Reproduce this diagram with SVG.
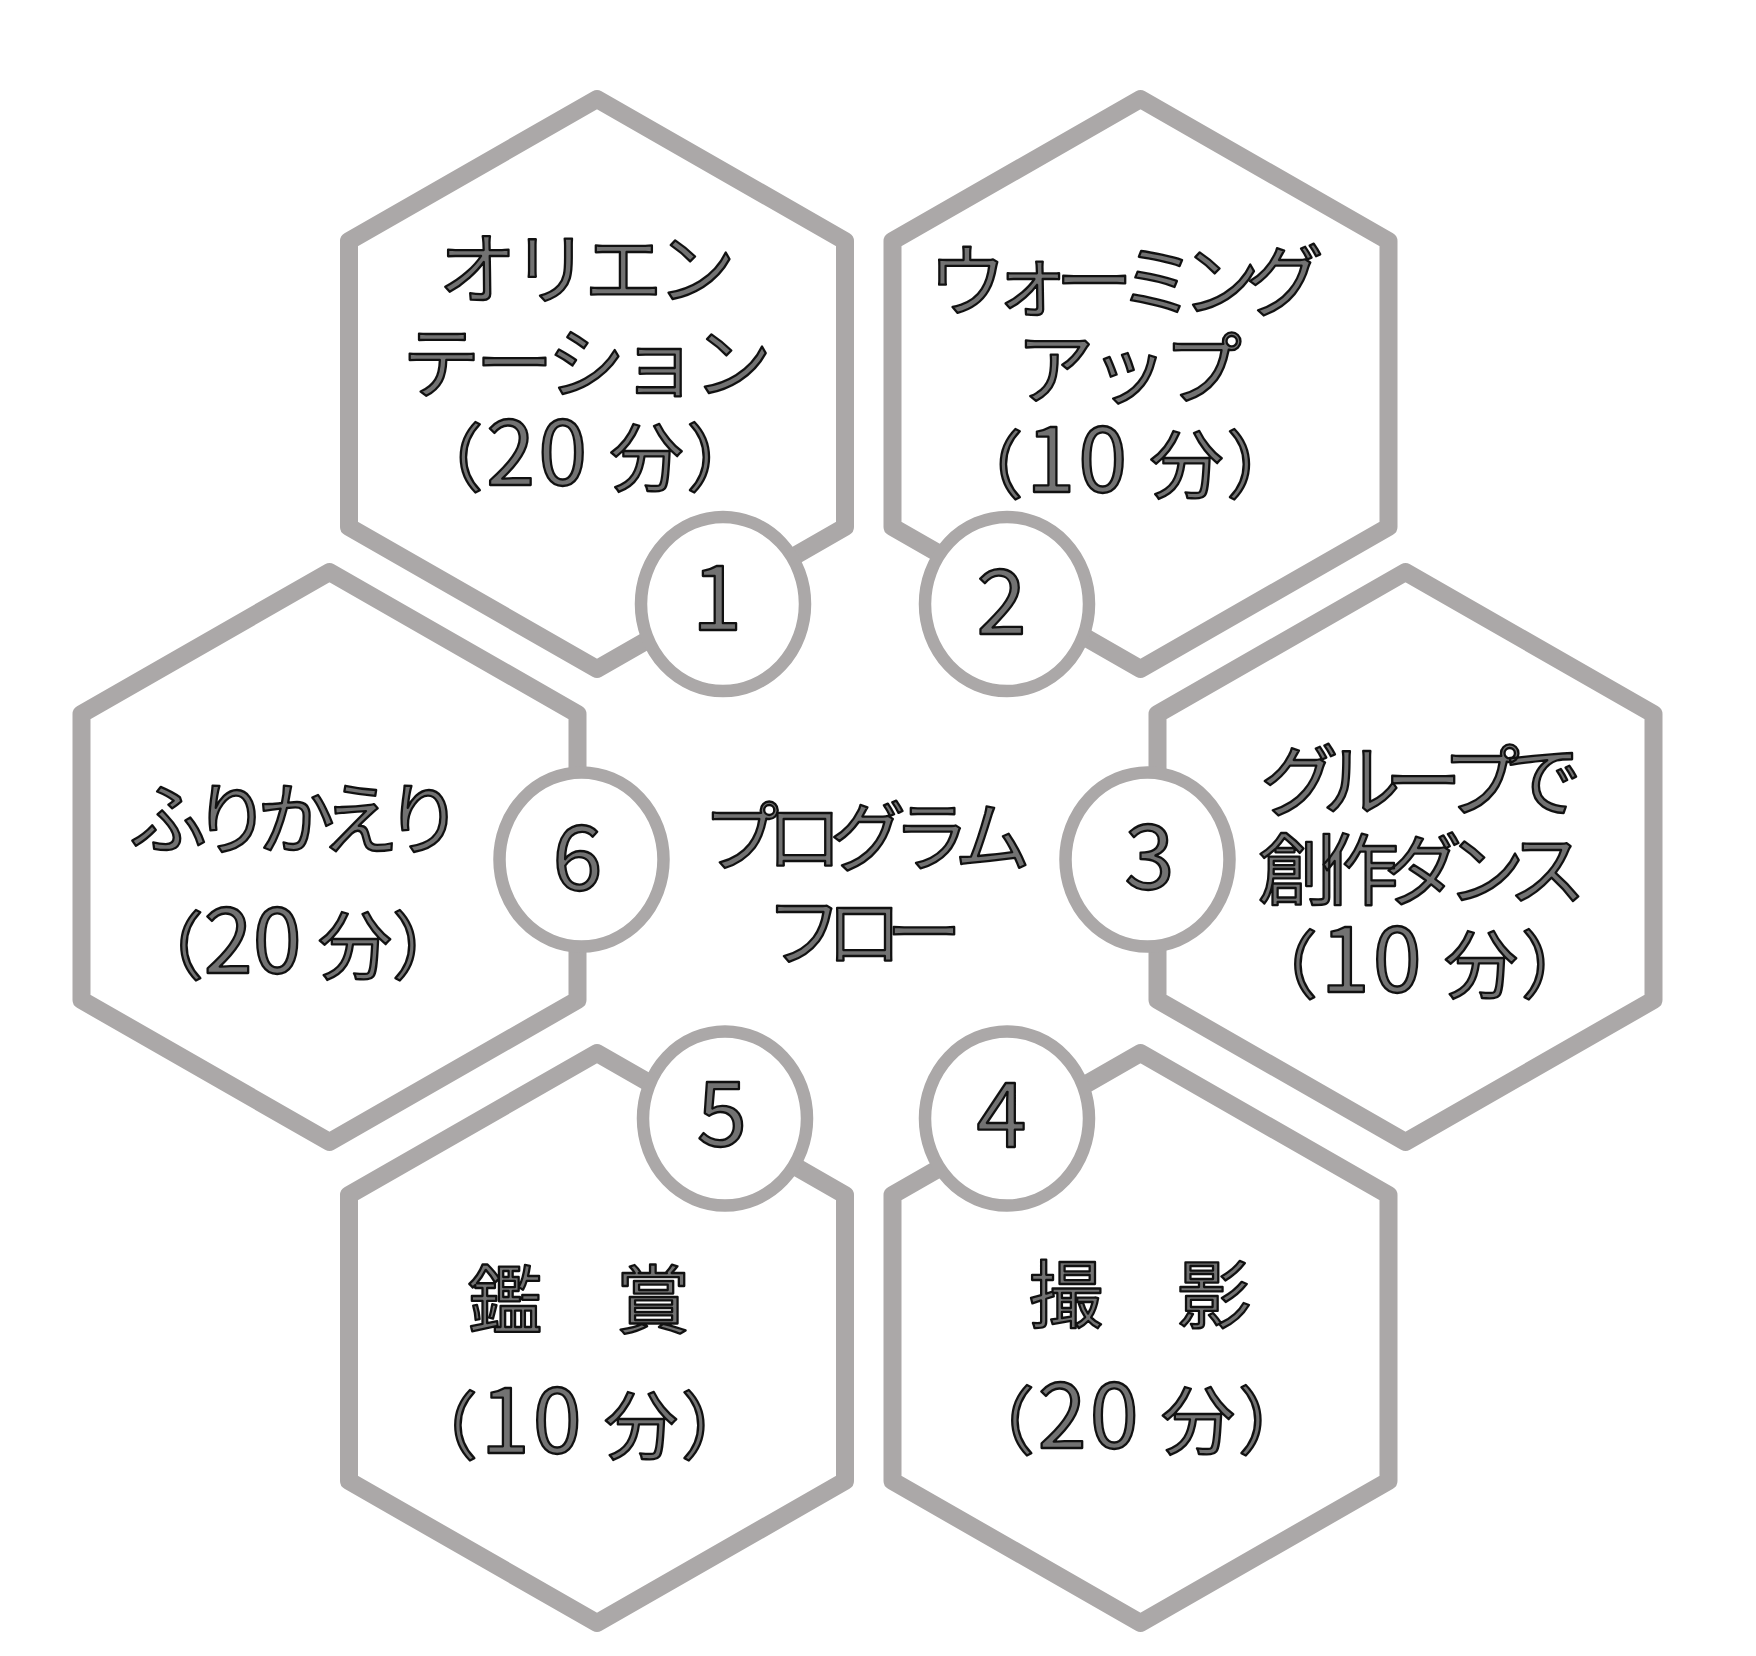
<svg xmlns="http://www.w3.org/2000/svg" xmlns:xlink="http://www.w3.org/1999/xlink" width="1756" height="1656" viewBox="0 0 1756 1656">
<defs>
<style>
.hex{fill:#ffffff;stroke:#aba8a8;stroke-width:18;stroke-linejoin:round}
.badge{fill:#ffffff;stroke:#aba8a8;stroke-width:12.5}
.t{font-family:"Noto Sans CJK JP","Noto Sans",sans-serif;font-size:78px;fill:#727272;stroke:#111111;stroke-width:2.3;stroke-linejoin:round;text-anchor:middle}
.p{font-size:74px;letter-spacing:3px}
.d{font-size:88px}
.k{font-size:74px}
.n{font-family:"Noto Sans CJK JP","Noto Sans",sans-serif;font-size:90px;fill:#727272;stroke:#111111;stroke-width:2.3;stroke-linejoin:round;text-anchor:middle}
</style>
<polygon id="hexshape" points="0,-285 248,-143 248,143 0,285 -248,143 -248,-143"/>
</defs>
<rect x="0" y="0" width="1756" height="1656" fill="#ffffff"/>

<g id="connectors"></g>

<g id="node1">
<use xlink:href="#hexshape" href="#hexshape" class="hex" x="597" y="384"/>
<text class="t"><tspan x="584.5" y="297.6" style="letter-spacing:-5px">オリエン</tspan><tspan x="584.6" y="391.7" style="letter-spacing:-4.75px">テーション</tspan><tspan class="p" x="586.5" y="485">（<tspan class="d">20</tspan> 分）</tspan></text>
</g>

<g id="node2">
<use xlink:href="#hexshape" href="#hexshape" class="hex" x="1140.5" y="384"/>
<text class="t"><tspan x="1118.7" y="310" style="letter-spacing:-14.6px">ウォーミング</tspan><tspan x="1127" y="398" style="letter-spacing:-4.25px">アップ</tspan><tspan class="p" x="1126.5" y="492">（<tspan class="d">10</tspan> 分）</tspan></text>
</g>

<g id="node3">
<use xlink:href="#hexshape" href="#hexshape" class="hex" x="1405.5" y="857"/>
<text class="t"><tspan x="1413" y="810" style="letter-spacing:-16px">グループで</tspan><tspan x="1414.5" y="899" style="letter-spacing:-15px">創作ダンス</tspan><tspan class="p" x="1421" y="992">（<tspan class="d">10</tspan> 分）</tspan></text>
</g>

<g id="node4">
<use xlink:href="#hexshape" href="#hexshape" class="hex" x="1140.5" y="1338"/>
<text class="t"><tspan class="k" x="1140" y="1322">撮　影</tspan><tspan class="p" x="1138" y="1447.7">（<tspan class="d">20</tspan> 分）</tspan></text>
</g>

<g id="node5">
<use xlink:href="#hexshape" href="#hexshape" class="hex" x="597" y="1338"/>
<text class="t"><tspan class="k" x="579" y="1327.4">鑑　賞</tspan><tspan class="p" x="581" y="1453">（<tspan class="d">10</tspan> 分）</tspan></text>
</g>

<g id="node6">
<use xlink:href="#hexshape" href="#hexshape" class="hex" x="329.5" y="857"/>
<text class="t"><tspan x="289" y="847.6" style="letter-spacing:-14px">ふりかえり</tspan><tspan class="p" x="298" y="972.7" style="letter-spacing:0px">（<tspan class="d">20</tspan> 分）</tspan></text>
</g>

<g id="center">
<text class="t" style="font-size:76px"><tspan x="860.5" y="865" style="letter-spacing:-12.5px">プログラム</tspan><tspan x="856" y="959.5" style="letter-spacing:-16px">フロー</tspan></text>
</g>

<g id="badge1">
<ellipse class="badge" cx="723" cy="604" rx="82" ry="87"/>
<text class="n" x="717" y="630">1</text>
</g>
<g id="badge2">
<ellipse class="badge" cx="1007" cy="604" rx="82" ry="87"/>
<text class="n" x="1001.5" y="634">2</text>
</g>
<g id="badge3">
<ellipse class="badge" cx="1147.5" cy="859.5" rx="82" ry="87"/>
<text class="n" x="1149.5" y="888.5">3</text>
</g>
<g id="badge4">
<ellipse class="badge" cx="1007" cy="1118.5" rx="82" ry="87"/>
<text class="n" x="1001.5" y="1147">4</text>
</g>
<g id="badge5">
<ellipse class="badge" cx="725" cy="1118.5" rx="82" ry="87"/>
<text class="n" x="722" y="1146">5</text>
</g>
<g id="badge6">
<ellipse class="badge" cx="581.5" cy="859.5" rx="82" ry="87"/>
<text class="n" x="577.5" y="890">6</text>
</g>
</svg>
